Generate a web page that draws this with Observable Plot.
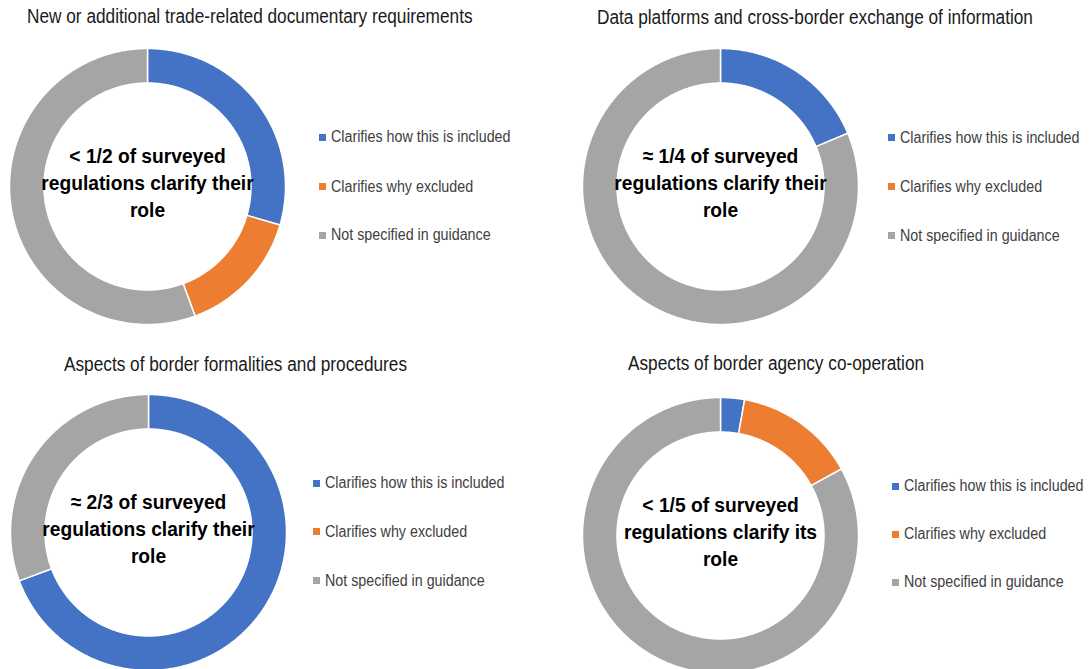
<!DOCTYPE html>
<html><head><meta charset="utf-8">
<script src="https://cdn.jsdelivr.net/npm/d3@7"></script>
<script src="https://cdn.jsdelivr.net/npm/@observablehq/plot@0.6"></script>
<style>
body{margin:0;background:#fff;}
#root{position:relative;width:1091px;height:669px;overflow:hidden;background:#fff;font-family:"Liberation Sans",Arial,sans-serif;}
.title{position:absolute;white-space:nowrap;font-size:19.5px;line-height:1;color:#1a1a1a;transform:scaleX(0.884);transform-origin:0 50%;}
.legend-row{position:absolute;display:flex;align-items:center;height:20px;white-space:nowrap;font-size:16px;color:#404040;}
.legend-row .lab{display:inline-block;transform:scaleX(0.893);transform-origin:0 50%;}
.sw{width:7px;height:7px;margin-right:5px;flex:none;}
.donut{position:absolute;}
</style></head><body><div id="root"></div>
<script>
// ---- data ----
const categories = ["Clarifies how this is included", "Clarifies why excluded", "Not specified in guidance"];
const colors = ["#4472C4", "#ED7D31", "#A5A5A5"];
const titles = [
  "New or additional trade-related documentary requirements",
  "Data platforms and cross-border exchange of information",
  "Aspects of border formalities and procedures",
  "Aspects of border agency co-operation"
];
const centerTexts = [
  "< 1/2 of surveyed\nregulations clarify their\nrole",
  "≈ 1/4 of surveyed\nregulations clarify their\nrole",
  "≈ 2/3 of surveyed\nregulations clarify their\nrole",
  "< 1/5 of surveyed\nregulations clarify its\nrole"
];
const valuesDocumentary = [29.5, 14.9, 55.6];
const valuesDataPlatforms = [18.7, 0, 81.3];
const valuesFormalities = [69.3, 0, 30.7];
const valuesAgencyCoop = [2.8, 14.2, 83.0];
const panelValues = [valuesDocumentary, valuesDataPlatforms, valuesFormalities, valuesAgencyCoop];

// ---- layout (pixels) ----
const layout = [
  {cx: 146.7, cy: 185.5, tx: 27,   tb: 24,    lx: 319, rows: [137.3, 186.7, 235]},
  {cx: 720,   cy: 186.3, tx: 597,  tb: 25,    lx: 888, rows: [137.7, 186.7, 235.7]},
  {cx: 148,   cy: 532.3, tx: 63.5, tb: 371.7, lx: 313, rows: [483.3, 531.7, 580.7]},
  {cx: 720,   cy: 534.7, tx: 628,  tb: 371,   lx: 892, rows: [486, 534, 582.3]}
];
const FONT = '"Liberation Sans",Arial,sans-serif';
const NARROW = 0.915;
const SIZE = 300, R_OUT = 1, R_IN = 0.75, HALF = 1.087;

function ringRows(values) {
  const total = d3.sum(values);
  const rows = [];
  let acc = 0;
  values.forEach((v, k) => {
    if (!(v > 0)) return;
    const a0 = acc / total * 2 * Math.PI;
    acc += v;
    const a1 = acc / total * 2 * Math.PI;
    const n = Math.max(2, Math.ceil((a1 - a0) / (Math.PI / 360)));
    for (let i = 0; i <= n; i++) {
      const t = a0 + (a1 - a0) * i / n;
      rows.push({cat: categories[k], x: R_OUT * Math.sin(t), y: R_OUT * Math.cos(t)});
    }
    for (let i = n; i >= 0; i--) {
      const t = a0 + (a1 - a0) * i / n;
      rows.push({cat: categories[k], x: R_IN * Math.sin(t), y: R_IN * Math.cos(t)});
    }
  });
  return rows;
}

function donut(values, label) {
  const svg = Plot.plot({
    width: SIZE, height: SIZE, margin: 0,
    style: {background: "transparent", overflow: "visible"},
    x: {domain: [-HALF, HALF], axis: null},
    y: {domain: [-HALF, HALF], axis: null},
    color: {domain: categories, range: colors},
    marks: [
      Plot.line(ringRows(values), {x: "x", y: "y", z: "cat", fill: "cat", stroke: "white", strokeWidth: 1.5, curve: "linear-closed"}),
      Plot.text([label], {text: d => d, frameAnchor: "middle", dy: -5, fontSize: 21, fontWeight: "bold", lineHeight: 1.28, fill: "#000", fontFamily: FONT})
    ]
  });
  // condense the label (Arial Narrow look)
  d3.select(svg).selectAll("g[aria-label='text'] text").each(function() {
    const tr = this.getAttribute("transform") || "";
    this.setAttribute("transform", tr + ` scale(${NARROW},1)`);
  });
  return svg;
}

const root = document.getElementById("root");
layout.forEach((L, p) => {
  const svg = donut(panelValues[p], centerTexts[p]);
  svg.classList.add("donut");
  svg.style.left = (L.cx - SIZE / 2) + "px";
  svg.style.top = (L.cy - SIZE / 2) + "px";
  root.appendChild(svg);

  const t = document.createElement("div");
  t.className = "title";
  t.textContent = titles[p];
  t.style.left = L.tx + "px";
  t.style.top = (L.tb - 0.85 * 19.5) + "px";
  root.appendChild(t);

  categories.forEach((c, k) => {
    const row = document.createElement("div");
    row.className = "legend-row";
    row.style.left = L.lx + "px";
    row.style.top = (L.rows[k] - 10) + "px";
    const sw = document.createElement("span");
    sw.className = "sw";
    sw.style.background = colors[k];
    const tx = document.createElement("span");
    tx.className = "lab";
    tx.textContent = c;
    row.appendChild(sw); row.appendChild(tx);
    root.appendChild(row);
  });
});
</script></body></html>
